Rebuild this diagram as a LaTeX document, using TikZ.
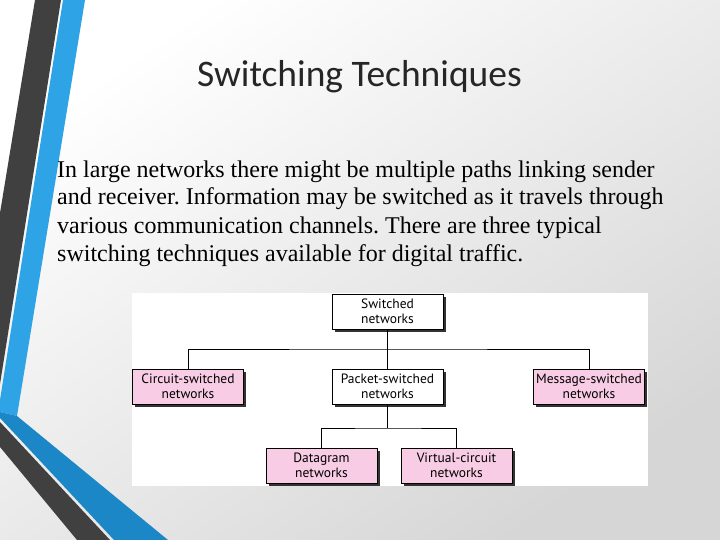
\documentclass[tikz,border=0pt]{standalone}
\usepackage{fontspec}
\setmainfont{Liberation Serif}
\newfontfamily\titlefont{Carlito}
\newfontfamily\boxfont{PT Sans}
\frenchspacing
\definecolor{bgdark}{RGB}{214,214,214}
\definecolor{stripegray}{RGB}{64,64,64}
\definecolor{lightblue}{RGB}{46,163,230}
\definecolor{darkblue}{RGB}{27,135,198}
\definecolor{boxpink}{RGB}{248,204,228}
\usetikzlibrary{shadows}
\tikzset{
  netbox/.style={draw=black, line width=1pt, minimum width=111pt, minimum height=35pt,
    inner sep=0pt, align=center, font=\boxfont\fontsize{13.5}{15}\selectfont,
    drop shadow={shadow xshift=2.5pt, shadow yshift=-2.5pt, fill=black!80, opacity=1}},
  pinkbox/.style={netbox, fill=boxpink},
  whitebox/.style={netbox, fill=white},
  conn/.style={draw=black, line width=1pt}
}
\begin{document}
\begin{tikzpicture}[x=1pt,y=-1pt]
\useasboundingbox (0,0) rectangle (720,540);
% background
\shade[shading=axis, top color=white, bottom color=bgdark, shading angle=35] (0,0) rectangle (720,540);
% decorative stripes
\fill[stripegray] (35,0) -- (61,0) -- (0,384) -- (0,213) -- cycle;
\fill[lightblue] (63,0) -- (85,0) -- (17,416) -- (0,412) -- (0,400) -- cycle;
\fill[darkblue] (0,412) -- (17,416) -- (168,540) -- (114,540) -- (0,418) -- cycle;
\fill[stripegray] (0,422) -- (110,540) -- (77,540) -- (0,447) -- cycle;
% title
\node[anchor=base, font=\titlefont\fontsize{37.5}{40}\selectfont, text=black!85] (title) at (359.5,87) {Switching Techniques};
% body
\node[anchor=base west, align=left, inner sep=0pt, font=\fontsize{24}{28}\selectfont] (body) at (57,261)
 {In large networks there might be multiple paths linking sender\\
  and receiver. Information may be switched as it travels through\\
  various communication channels. There are three typical\\
  switching techniques available for digital traffic.};
% diagram panel
\fill[white] (132,293) rectangle (648,486);
\node[whitebox] (sw) at (387.5,311.5) {Switched\\networks};
\node[pinkbox] (cs) at (188,386.5) {Circuit-switched\\networks};
\node[whitebox] (ps) at (387.5,386.5) {Packet-switched\\networks};
\node[pinkbox] (ms) at (589,386.5) {Message-switched\\networks};
\node[pinkbox] (dg) at (321.5,465.5) {Datagram\\networks};
\node[pinkbox] (vc) at (456.5,465.5) {Virtual-circuit\\networks};
\coordinate (j1) at (387.5,349);
\coordinate (j2) at (387.5,428);
\draw[conn] (sw.south) -- (ps.north);
\draw[conn] (cs.north) |- (j1) -| (ms.north);
\draw[conn] (ps.south) -- (j2);
\draw[conn] (dg.north) |- (j2) -| (vc.north);
\end{tikzpicture}
\end{document}
